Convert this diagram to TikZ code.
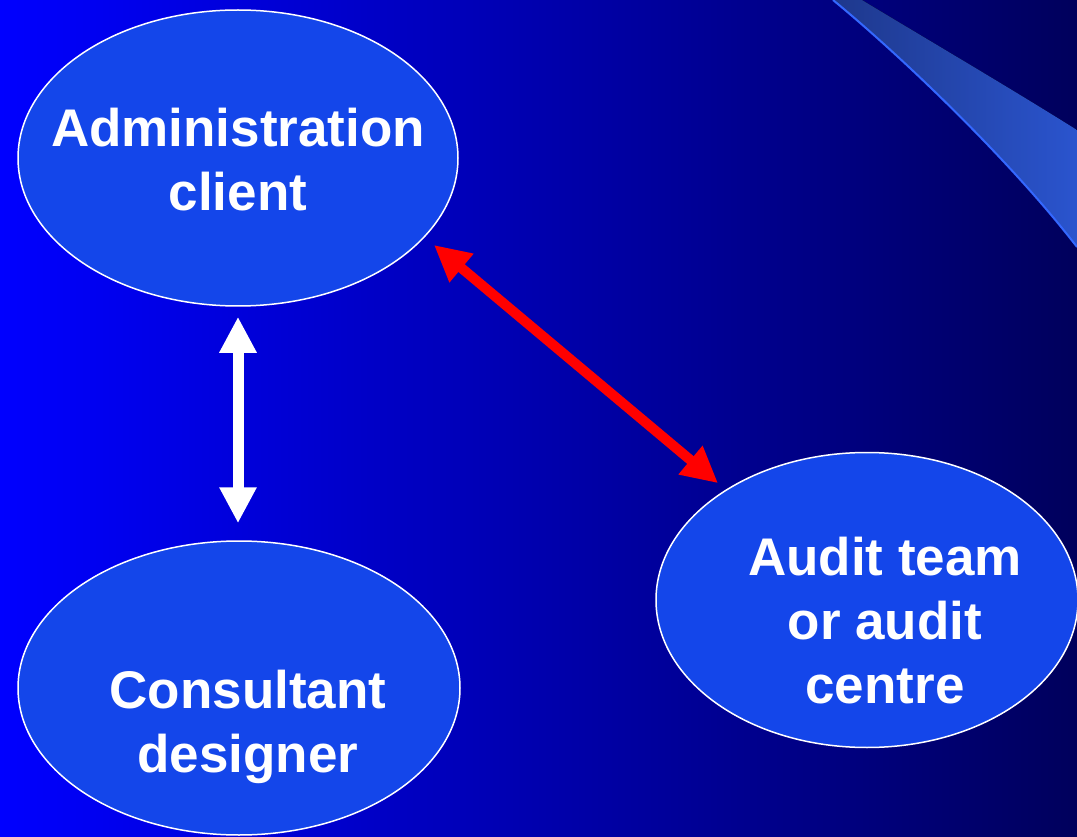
\documentclass[tikz,border=0pt]{standalone}
\usepackage{fontspec}
\setmainfont{Liberation Sans}
\usetikzlibrary{shapes.geometric,arrows.meta}

\definecolor{bgleft}{RGB}{0,0,255}
\definecolor{bgright}{RGB}{0,0,92}
\definecolor{bubblefill}{RGB}{20,70,234}
\definecolor{swooshL}{RGB}{30,56,140}
\definecolor{swooshR}{RGB}{42,84,206}
\definecolor{swooshedge}{RGB}{52,104,255}

\tikzset{
  bubble/.style={ellipse, draw=white, line width=1.5pt, fill=bubblefill, inner sep=0pt},
  caption/.style={text=white, font=\bfseries\fontsize{53}{64}\selectfont, align=center, inner sep=0pt},
  link/.style={line width=11pt, {Triangle[length=36pt,width=35pt]}-{Triangle[length=36pt,width=35pt]}},
}

\begin{document}
\begin{tikzpicture}[x=1pt,y=-1pt]
  % backdrop with horizontal fade
  \useasboundingbox (0,0) rectangle (1077,837);
  \fill[left color=bgleft, right color=bgright] (0,0) rectangle (1077,837);

  % swoosh in the upper right corner
  \fill[left color=swooshL, right color=swooshR]
    (833,0) .. controls (900,55) and (1010,160) .. (1077,247)
    -- (1077,130) .. controls (1010,88) and (935,44) .. (862,0) -- cycle;
  \draw[swooshedge, line width=2pt]
    (833,0) .. controls (900,55) and (1010,160) .. (1077,247);

  % the three parties
  \node[bubble, minimum width=440pt, minimum height=296pt] (admin) at (238,158) {};
  \node[bubble, minimum width=442pt, minimum height=294pt] (consultant) at (239,688) {};
  \node[bubble, minimum width=422pt, minimum height=295pt] (audit) at (867,600) {};

  \node[caption] (admintext) at (238,160) {Administration\\client};
  \node[caption] (consultanttext) at (248,726.5) {Consultant\\designer};
  \node[caption] (audittext) at (885,621) {Audit team\\or audit\\centre};

  % relations
  \draw[link, white, shorten <=10pt, shorten >=17pt]
    (admin.south) -- (admin.south |- consultant.north);
  \draw[link, red, line width=10pt, shorten <=12pt, shorten >=10pt]
    (admin.-23.1) -- (audit.142.9);
\end{tikzpicture}
\end{document}
